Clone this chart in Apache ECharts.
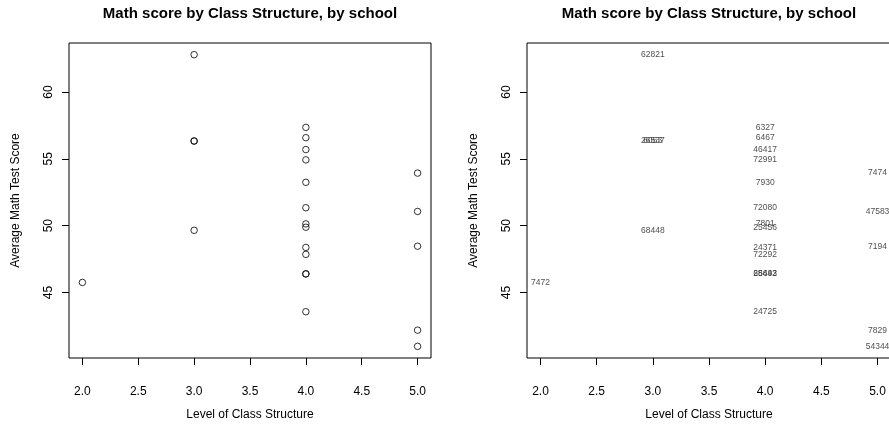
<!DOCTYPE html>
<html>
<head>
<meta charset="utf-8">
<script src="https://cdn.jsdelivr.net/npm/echarts@6/dist/echarts.min.js"></script>
<style>
  html, body { margin: 0; padding: 0; background: #fff; }
  #chart { width: 889px; height: 425px; }
</style>
</head>
<body>
<div id="chart"></div>
<script>
// School-level averages: ID, class-structure level, mean math score
const schoolIds = [7472, 62821, 26537, 6053, 68448,
  6327, 6467, 46417, 72991, 7930, 72080, 7801, 25456, 24371, 72292, 25642, 68493, 24725,
  7474, 47583, 7194, 7829, 54344];
const classStructure = [2, 3, 3, 3, 3,
  4, 4, 4, 4, 4, 4, 4, 4, 4, 4, 4, 4, 4,
  5, 5, 5, 5, 5];
const mathScore = [45.75, 62.79, 56.33, 56.33, 49.65,
  57.35, 56.58, 55.69, 54.92, 53.24, 51.34, 50.13, 49.88, 48.37, 47.85, 46.39, 46.39, 43.56,
  53.93, 51.06, 48.46, 42.18, 40.97];

const xTicks = [2.0, 2.5, 3.0, 3.5, 4.0, 4.5, 5.0];
const yTicks = [45, 50, 55, 60];

const titleText = 'Math score by Class Structure, by school';
const xName = 'Level of Class Structure';
const yName = 'Average Math Test Score';

// axis ranges padded by 4% like base-graphics defaults
function padded(vals) {
  const lo = Math.min(...vals), hi = Math.max(...vals);
  const d = (hi - lo) * 0.04;
  return [lo - d, hi + d];
}
const [xMin, xMax] = padded(classStructure);
const [yMin, yMax] = padded(mathScore);

const points = classStructure.map((x, i) => [x, mathScore[i], schoolIds[i]]);

const FONT = 'Liberation Sans, Arial, Helvetica, sans-serif';

function xAxis(gridIndex) {
  return {
    type: 'value', gridIndex, min: xMin, max: xMax,
    name: xName, nameLocation: 'middle', nameGap: 51,
    nameTextStyle: { fontFamily: FONT, fontSize: 12, color: '#000' },
    axisLine: { show: false },
    axisTick: { show: true, inside: false, length: 7, customValues: xTicks, lineStyle: { color: '#000', width: 1 } },
    axisLabel: { show: true, margin: 28, customValues: xTicks, fontFamily: FONT, fontSize: 12, color: '#000',
      formatter: v => Number(v).toFixed(1) },
    splitLine: { show: false }
  };
}
function yAxis(gridIndex) {
  return {
    type: 'value', gridIndex, min: yMin, max: yMax,
    name: yName, nameLocation: 'middle', nameGap: 47, nameRotate: 90,
    nameTextStyle: { fontFamily: FONT, fontSize: 12, color: '#000' },
    axisLine: { show: false },
    axisTick: { show: true, inside: false, length: 7, customValues: yTicks, lineStyle: { color: '#000', width: 1 } },
    axisLabel: { show: true, margin: 14, rotate: 90, customValues: yTicks, fontFamily: FONT, fontSize: 12, color: '#000' },
    splitLine: { show: false }
  };
}

const chart = echarts.init(document.getElementById('chart'), null, { renderer: 'canvas' });
chart.setOption({
  backgroundColor: '#fff',
  animation: false,
  title: [
    { text: titleText, left: 245, top: 1, textAlign: 'center',
      textStyle: { fontFamily: FONT, fontSize: 15, fontWeight: 'bold', color: '#000' } },
    { text: titleText, left: 704, top: 1, textAlign: 'center',
      textStyle: { fontFamily: FONT, fontSize: 15, fontWeight: 'bold', color: '#000' } }
  ],
  grid: [
    { left: 69, top: 43, width: 362, height: 315, outerBoundsMode: 'none', containLabel: false,
      show: true, borderColor: '#000', borderWidth: 1, backgroundColor: 'transparent' },
    { left: 527, top: 43, width: 364, height: 315, outerBoundsMode: 'none', containLabel: false,
      show: true, borderColor: '#000', borderWidth: 1, backgroundColor: 'transparent' }
  ],
  xAxis: [xAxis(0), xAxis(1)],
  yAxis: [yAxis(0), yAxis(1)],
  series: [
    {
      type: 'scatter', xAxisIndex: 0, yAxisIndex: 0,
      data: points,
      symbol: 'circle', symbolSize: 6.5,
      itemStyle: { color: 'rgba(255,255,255,0)', borderColor: '#000', borderWidth: 1 }
    },
    {
      type: 'scatter', xAxisIndex: 1, yAxisIndex: 1,
      data: points,
      symbol: 'circle', symbolSize: 1,
      itemStyle: { color: 'rgba(0,0,0,0)' },
      label: {
        show: true, position: 'inside',
        formatter: p => String(p.value[2]),
        fontFamily: FONT, fontSize: 8.5, color: '#222'
      },
      labelLayout: { hideOverlap: false }
    }
  ]
});
</script>
</body>
</html>
